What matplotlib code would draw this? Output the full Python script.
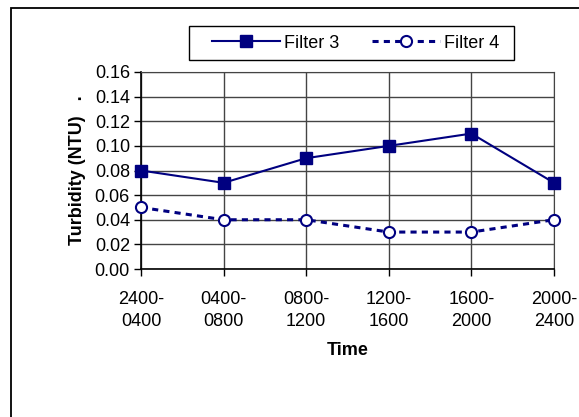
import matplotlib
matplotlib.use("Agg")
import matplotlib.pyplot as plt
from matplotlib.patches import Rectangle

# Data
time_labels = ["2400-\n0400", "0400-\n0800", "0800-\n1200",
               "1200-\n1600", "1600-\n2000", "2000-\n2400"]
filter3 = [0.08, 0.07, 0.09, 0.10, 0.11, 0.07]
filter4 = [0.05, 0.04, 0.04, 0.03, 0.03, 0.04]
y_ticks = [0.00, 0.02, 0.04, 0.06, 0.08, 0.10, 0.12, 0.14, 0.16]

NAVY = "#000080"
W, H = 579, 417

plt.rcParams.update({
    "font.family": ["Liberation Sans", "DejaVu Sans"],
    "font.size": 13,
})

fig = plt.figure(figsize=(W / 100, H / 100), dpi=100)

# outer chart-area border (runs off the right and bottom edges)
fig.patches.append(Rectangle((11 / W, -0.05), 1.0, 1 - 8 / H + 0.05,
                             transform=fig.transFigure, fill=False,
                             edgecolor="black", linewidth=1.3))

ax = fig.add_axes([141 / W, 1 - 269 / H, 413 / W, 197 / H])

x = list(range(len(time_labels)))
ax.plot(x, filter3, color=NAVY, linewidth=1.5, marker="s", markersize=8.5,
        markerfacecolor=NAVY, markeredgecolor=NAVY, label="Filter 3",
        clip_on=False, zorder=4)
ax.plot(x, filter4, color=NAVY, linewidth=2.2, linestyle=(0, (2.0, 1.7)),
        marker="o", markersize=8, markerfacecolor="white",
        markeredgecolor=NAVY, markeredgewidth=1.5, label="Filter 4",
        clip_on=False, zorder=4)

ax.set_xlim(0, len(time_labels) - 1)
ax.set_ylim(0, 0.16)
ax.set_xticks(x)
ax.set_xticklabels(time_labels, linespacing=1.35)
ax.set_yticks(y_ticks)
ax.set_yticklabels([f"{v:.2f}" for v in y_ticks])
ax.tick_params(axis="both", direction="out", length=5, width=1, pad=3)
ax.tick_params(axis="x", pad=11)

ax.grid(True, color="#444444", linewidth=1)
ax.set_axisbelow(True)
for side in ["top", "right"]:
    ax.spines[side].set_color("#444444")
for side in ["left", "bottom"]:
    ax.spines[side].set_linewidth(1.2)

ax.set_xlabel("Time", fontweight="bold", labelpad=9)
ax.set_ylabel("Turbidity (NTU)   .", fontweight="bold", labelpad=6)

# legend content without its own frame; box drawn separately for padding
fig.legend(loc="center", bbox_to_anchor=(355.5 / W, 1 - 43 / H), ncol=2,
           frameon=False, handlelength=3.8, handletextpad=0.2,
           columnspacing=1.8, borderpad=0.3, fontsize=13)
fig.patches.append(Rectangle((189 / W, 1 - 60 / H), 325 / W, 34 / H,
                             transform=fig.transFigure, fill=False,
                             edgecolor="black", linewidth=1))

fig.savefig("out.png", dpi=100)
